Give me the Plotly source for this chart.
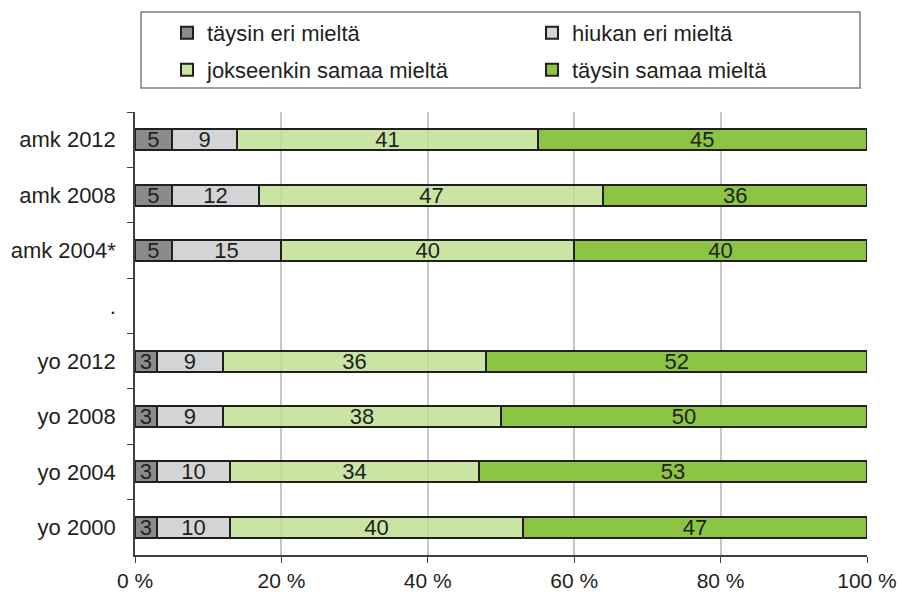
import plotly.graph_objects as go

categories = ["amk 2012", "amk 2008", "amk 2004*", ".", "yo 2012", "yo 2008", "yo 2004", "yo 2000"]
series_names = ["täysin eri mieltä", "hiukan eri mieltä", "jokseenkin samaa mieltä", "täysin samaa mieltä"]
tays_eri = [5, 5, 5, None, 3, 3, 3, 3]
hiukan_eri = [9, 12, 15, None, 9, 9, 10, 10]
jokseenkin = [41, 47, 40, None, 36, 38, 34, 40]
tays_samaa = [45, 36, 40, None, 52, 50, 53, 47]
x_tickvals = [0, 20, 40, 60, 80, 100]
x_ticktext = ["0 %", "20 %", "40 %", "60 %", "80 %", "100 %"]

colors = ["#8b8b8d", "#d3d4d6", "rgba(190,222,144,0.82)", "#8cc443"]
legend_ids = ["legend", "legend", "legend2", "legend2"]
series = [tays_eri, hiukan_eri, jokseenkin, tays_samaa]

FONT = "Liberation Sans, Arial, sans-serif"
TXT = "#231f20"

fig = go.Figure()
for name, vals, col, lg in zip(series_names, series, colors, legend_ids):
    fig.add_trace(go.Bar(
        y=categories, x=vals, name=name, orientation="h",
        marker=dict(color=col, line=dict(color=TXT, width=2)),
        text=[("" if v is None else str(v)) for v in vals],
        textposition="inside", insidetextanchor="middle", textangle=0,
        constraintext="none",
        textfont=dict(family=FONT, size=22, color=TXT),
        legend=lg, hoverinfo="skip",
    ))

LX = (167 - 135) / 732
fig.update_layout(
    width=902, height=592,
    margin=dict(l=135, r=35, t=112, b=37, autoexpand=False),
    barmode="stack", bargap=0.62,
    plot_bgcolor="white", paper_bgcolor="white",
    font=dict(family=FONT, size=22, color=TXT),
    uniformtext=dict(minsize=22, mode="show"),
    legend=dict(orientation="h", traceorder="normal", x=LX, xanchor="left",
                y=(555 - 33) / 443, yanchor="middle",
                entrywidth=320, entrywidthmode="pixels", bgcolor="rgba(0,0,0,0)",
                font=dict(family=FONT, size=22, color=TXT), itemclick=False),
    legend2=dict(orientation="h", traceorder="normal", x=LX, xanchor="left",
                 y=(555 - 70) / 443, yanchor="middle",
                 entrywidth=320, entrywidthmode="pixels", bgcolor="rgba(0,0,0,0)",
                 font=dict(family=FONT, size=22, color=TXT), itemclick=False),
    shapes=[dict(type="rect", xref="paper", yref="paper",
                 x0=(141 - 135) / 732, x1=(860 - 135) / 732,
                 y0=(555 - 88) / 443, y1=(555 - 12) / 443,
                 line=dict(color="#7f7f7f", width=1.5), fillcolor="rgba(0,0,0,0)")],
)

fig.update_xaxes(range=[0, 100], tickvals=x_tickvals, ticktext=x_ticktext,
                 showgrid=True, gridcolor="#c6c6c6", gridwidth=2,
                 showline=True, linecolor="#404040", linewidth=1.5,
                 ticks="outside", ticklen=6, tickcolor="#404040", tickwidth=1,
                 zeroline=False, fixedrange=True,
                 tickfont=dict(family=FONT, size=21, color=TXT))
fig.update_yaxes(categoryorder="array", categoryarray=categories, autorange="reversed",
                 showline=True, linecolor="#404040", linewidth=1.5,
                 ticks="outside", ticklen=6, tickcolor="#404040", tickwidth=1,
                 tickson="boundaries", showgrid=False, fixedrange=True,
                 ticklabelstandoff=13,
                 tickfont=dict(family=FONT, size=22, color=TXT))

fig.write_html("out.html", config={"displayModeBar": False},
               post_script="document.body.style.margin='0';document.body.style.padding='0';")
